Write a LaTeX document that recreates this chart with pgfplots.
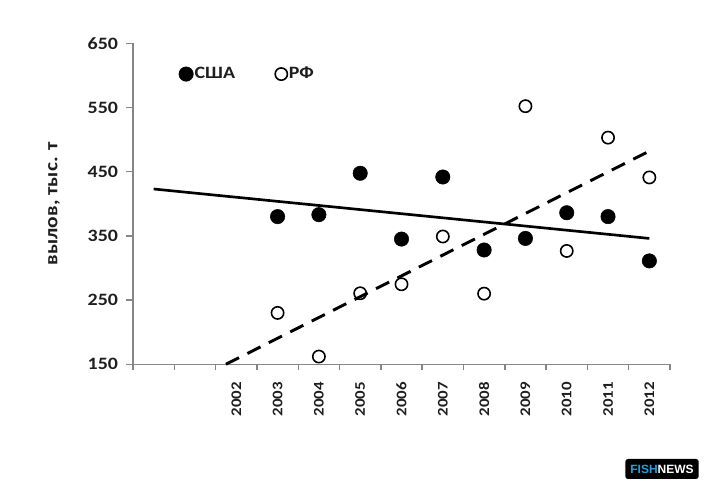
\documentclass[border=0pt]{standalone}
\usepackage{fontspec}
\setmainfont{Carlito}[FakeStretch=1.15]
\newfontfamily\logofont{Liberation Sans}
\usepackage{pgfplots}
\pgfplotsset{compat=1.18}
\definecolor{axgray}{RGB}{134,134,134}
\definecolor{txt}{RGB}{30,30,30}
\definecolor{fishblue}{RGB}{30,160,225}
\begin{document}
\begin{tikzpicture}[x=1pt,y=1pt]
\path[use as bounding box] (0,0) rectangle (531.75,366);
\begin{axis}[
  at={(99.75pt,92.8pt)}, anchor=south west,
  scale only axis, width=402.75pt, height=240.75pt,
  xmin=0.5, xmax=13.5, ymin=150, ymax=650,
  axis lines*=left,
  axis line style={draw=axgray, line width=1.1pt},
  tick align=outside,
  major tick length=5.25pt,
  minor tick length=4.5pt,
  every tick/.style={draw=axgray, line width=1.1pt},
  ytick={150,250,350,450,550,650},
  xtick={1,2,3,4,5,6,7,8,9,10,11,12,13},
  xticklabels={{},{},2002,2003,2004,2005,2006,2007,2008,2009,2010,2011,2012},
  major x tick style={draw=none},
  minor xtick={0.5,1.5,2.5,3.5,4.5,5.5,6.5,7.5,8.5,9.5,10.5,11.5,12.5,13.5},
  /pgf/number format/assume math mode=true,
  yticklabel style={font=\bfseries\fontsize{13}{13}\selectfont, text=txt, xshift=-2.5pt},
  xticklabel style={font=\bfseries\fontsize{11}{11}\selectfont, text=txt, rotate=90, anchor=east, xshift=-4.5pt},
  ylabel={вылов, тыс. т},
  ylabel style={at={(axis description cs:-0.147,0.5)}, anchor=center, font=\bfseries\fontsize{14}{14}\selectfont, text=txt},
  clip=false,
  legend style={at={(axis description cs:0.085,0.904)}, anchor=west, draw=none, fill=none,
    inner sep=0pt, font=\bfseries\fontsize{13}{13}\selectfont, text=txt,
    legend columns=2, /tikz/every even column/.append style={column sep=29pt},
    nodes={inner sep=1pt}},
  legend image code/.code={\draw[mark repeat=2,mark phase=2,#1] plot coordinates {(0pt,0pt)(5pt,0pt)(10pt,0pt)};},
]
\addplot[only marks, mark=*, mark size=5.4pt, mark options={fill=black, draw=black}]
  coordinates {(4,380)(5,383)(6,447.5)(7,345)(8,441.7)(9,328)(10,346)(11,386)(12,380)(13,311)};
\addlegendentry{США}
\addplot[only marks, mark=o, mark size=4.6pt, mark options={fill=white, draw=black, line width=1.2pt}]
  coordinates {(4,230)(5,162)(6,260.6)(7,274.6)(8,349)(9,260)(10,552)(11,326.5)(12,503)(13,441)};
\addlegendentry{РФ}
\addplot[forget plot, black, line width=2pt] coordinates {(1,423)(13,346)};
\addplot[forget plot, black, line width=2.2pt, dash pattern=on 11pt off 7pt] coordinates {(2.75,150)(13,482)};
\end{axis}
\node[fill=black, rounded corners=2pt, minimum width=55pt, minimum height=15pt, inner sep=0pt,
  font=\logofont\bfseries\fontsize{9}{9}\selectfont] at (496.5,14.25)
  {\textcolor{fishblue}{FISH}\textcolor{white}{NEWS}};
\end{tikzpicture}
\end{document}
